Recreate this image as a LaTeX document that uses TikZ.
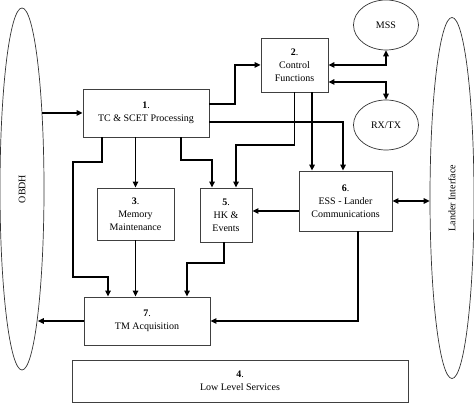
\documentclass[tikz,border=0pt]{standalone}
\usepackage{fontspec}
\setmainfont{Liberation Serif}
\usetikzlibrary{shapes.geometric,arrows.meta}
\tikzset{
  BoxStyle/.style = { rectangle, draw = black!75, line width = 0.8pt,
                      align = center, inner sep = 1pt,
                      font = \fontsize{10}{13}\selectfont },
  OvalStyle/.style = { ellipse, draw = black!80, line width = 0.7pt, inner sep = 0pt,
                       font = \fontsize{10}{13}\selectfont },
  EdgeStyle/.style = { line width = 1.3pt, -{Triangle[length=6pt,width=5.5pt]} },
  BothStyle/.style = { EdgeStyle, {Triangle[length=6pt,width=5.5pt]}-{Triangle[length=6pt,width=5.5pt]} } }

\begin{document}
\begin{tikzpicture}[x=1pt,y=-1pt]
  \useasboundingbox (0,0) rectangle (474,403);

  \node[OvalStyle, minimum width = 44, minimum height = 362] (obdh) at (22,189) {};
  \node[rotate=90, font = \fontsize{10}{13}\selectfont] (obdhtext) at (22,189) {OBDH};
  \node[OvalStyle, minimum width = 44, minimum height = 361] (lander) at (452,198) {};
  \node[rotate=90, font = \fontsize{10}{13}\selectfont] (landertext) at (452,198) {Lander Interface};

  \node[OvalStyle, minimum width = 65, minimum height = 50] (mss) at (386,25) {MSS};
  \node[OvalStyle, minimum width = 65, minimum height = 50] (rxtx) at (386,125) {RX/TX};

  \node[BoxStyle, minimum width = 126, minimum height = 48] (b1) at (146,113) {\textbf{1}.\\TC \& SCET Processing};
  \node[BoxStyle, minimum width = 67, minimum height = 54] (b2) at (294.5,65) {\textbf{2}.\\Control\\Functions};
  \node[BoxStyle, minimum width = 77, minimum height = 52] (b3) at (135.5,214) {\textbf{3}.\\Memory\\Maintenance};
  \node[BoxStyle, minimum width = 52, minimum height = 54] (b5) at (226,215) {\textbf{5}.\\HK \&\\Events};
  \node[BoxStyle, minimum width = 93, minimum height = 60] (b6) at (345.5,201) {\textbf{6}.\\ESS - Lander\\Communications};
  \node[BoxStyle, minimum width = 126, minimum height = 48] (b7) at (147,321) {\textbf{7}.\\TM Acquisition};
  \node[BoxStyle, minimum width = 336, minimum height = 42] (b4) at (240,381) {\textbf{4}.\\Low Level Services};

  \draw[EdgeStyle] (b1.west -| obdh.75) -- (b1.west);
  \draw[EdgeStyle] (b1.east |- 0,104) -- (235,104) |- (b2.west);
  \draw[EdgeStyle] (b1.east |- 0,122) -| (343,0 |- b6.north);
  \draw[EdgeStyle] (b1.south -| b3.north) -- (b3.north);
  \draw[EdgeStyle] (b1.south -| 181,0) |- (212,160) -- (212,0 |- b5.north);
  \draw[EdgeStyle] (b1.south -| 102,0) |- (73,162) |- (108,277) -- (108,0 |- b7.north);

  \draw[EdgeStyle] (b2.south -| 312,0) -- (312,0 |- b6.north);
  \draw[EdgeStyle] (b2.south) |- (236,145) -- (236,0 |- b5.north);
   \draw[BothStyle] (b2.east) -| (mss.south);
   \draw[BothStyle] (b2.east |- 0,82) -| (rxtx.north);

  \draw[EdgeStyle] (b3.south) -- (b3.south |- b7.north);
  \draw[EdgeStyle] (b5.south -| 224,0) |- (187,263) -- (187,0 |- b7.north);

  \draw[EdgeStyle] (b6.west |- 0,211) -- (b5.east |- 0,211);
  \draw[BothStyle] (b6.east) -- (b6.east -| lander.west);
  \draw[EdgeStyle] (b6.south -| 358,0) |- (b7.east);

  \draw[EdgeStyle] (b7.west) -- (b7.west -| obdh.-83.4);
\end{tikzpicture}
\end{document}
